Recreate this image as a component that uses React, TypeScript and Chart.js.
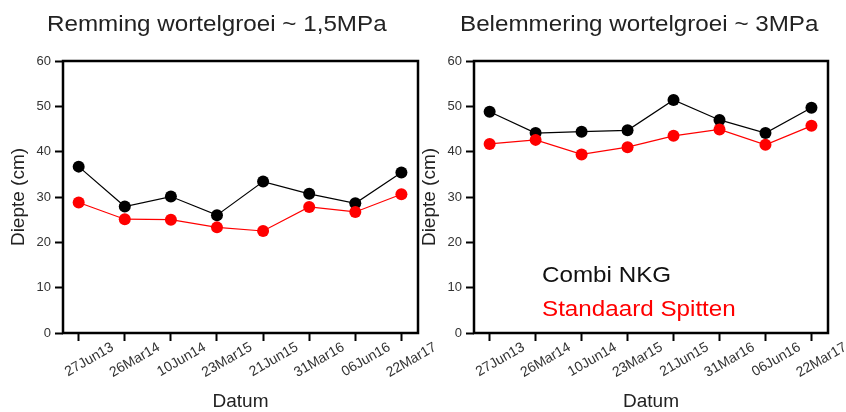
import React, { useEffect, useRef } from "react";
import { Chart, registerables } from "chart.js";

Chart.register(...registerables);

const dates = ["27Jun13", "26Mar14", "10Jun14", "23Mar15", "21Jun15", "31Mar16", "06Jun16", "22Mar17"];
const leftCombiNKG = [36.7, 27.9, 30.1, 26.0, 33.4, 30.7, 28.6, 35.4];
const leftSpitten = [28.8, 25.1, 25.0, 23.3, 22.5, 27.8, 26.7, 30.6];
const rightCombiNKG = [48.8, 44.1, 44.4, 44.7, 51.4, 47.0, 44.1, 49.7];
const rightSpitten = [41.7, 42.6, 39.4, 41.0, 43.5, 44.9, 41.5, 45.7];
const yMin = 0;
const yMax = 60;
const yStep = 10;

const leftTitle = "Remming wortelgroei ~ 1,5MPa";
const rightTitle = "Belemmering wortelgroei ~ 3MPa";
const seriesNames = ["Combi NKG", "Standaard Spitten"];
const FONT = "'Liberation Sans', Arial, Helvetica, sans-serif";
const W = 846;
const H = 412;

type PanelProps = {
  combi: number[];
  spitten: number[];
  padLeft: number;
  yAxisWidth: number;
  padRight: number;
  yTitlePad: number;
};

function Panel({ combi, spitten, padLeft, yAxisWidth, padRight, yTitlePad }: PanelProps) {
  const ref = useRef<HTMLCanvasElement>(null);
  useEffect(() => {
    if (!ref.current) return;
    const boxPlugin = {
      id: "boxFrame",
      beforeDatasetsDraw(chart: any) {
        const { ctx, chartArea } = chart;
        ctx.save();
        ctx.strokeStyle = "#000";
        ctx.lineWidth = 2.5;
        ctx.strokeRect(chartArea.left, chartArea.top, chartArea.right - chartArea.left, chartArea.bottom - chartArea.top);
        ctx.restore();
      },
    };
    const toPts = (arr: number[]) => arr.map((v, i) => ({ x: i, y: v }));
    const chart = new Chart(ref.current, {
      type: "line",
      data: {
        datasets: [
          {
            label: seriesNames[1],
            data: toPts(spitten),
            borderColor: "#ff0000",
            backgroundColor: "#ff0000",
            pointBackgroundColor: "#ff0000",
            pointBorderColor: "#ff0000",
            borderWidth: 1.2,
            pointRadius: 6,
            pointBorderWidth: 0,
            tension: 0,
          },
          {
            label: seriesNames[0],
            data: toPts(combi),
            borderColor: "#000",
            backgroundColor: "#000",
            pointBackgroundColor: "#000",
            pointBorderColor: "#000",
            borderWidth: 1.2,
            pointRadius: 6,
            pointBorderWidth: 0,
            tension: 0,
          },
        ],
      },
      options: {
        responsive: false,
        animation: false,
        events: [],
        layout: { padding: { top: 61, left: padLeft, right: padRight, bottom: 0 } },
        plugins: { legend: { display: false }, title: { display: false }, tooltip: { enabled: false } },
        scales: {
          x: {
            type: "linear",
            min: -0.34,
            max: 7.36,
            afterBuildTicks: (s: any) => {
              s.ticks = dates.map((_, i) => ({ value: i }));
            },
            afterFit: (s: any) => {
              s.height = 79;
            },
            ticks: {
              callback: (v: any) => dates[v as number] ?? "",
              autoSkip: false,
              minRotation: 30,
              maxRotation: 30,
              labelOffset: 34,
              padding: -2,
              color: "#333",
              font: { family: FONT, size: 14 },
            },
            grid: { drawOnChartArea: false, drawTicks: true, tickLength: 8, tickWidth: 2, tickColor: "#000" },
            border: { display: false },
            title: {
              display: true,
              text: "Datum",
              color: "#222",
              font: { family: FONT, size: 19, lineHeight: 1 },
              padding: { top: 0, bottom: 1 },
            },
          },
          y: {
            type: "linear",
            min: yMin,
            max: yMax,
            afterFit: (s: any) => {
              s.width = yAxisWidth;
            },
            ticks: { stepSize: yStep, color: "#333", padding: 4, font: { family: FONT, size: 13 } },
            grid: { drawOnChartArea: false, drawTicks: true, tickLength: 8, tickWidth: 2, tickColor: "#000" },
            border: { display: false },
            title: {
              display: true,
              text: "Diepte (cm)",
              color: "#222",
              font: { family: FONT, size: 19, lineHeight: 1 },
              padding: { top: yTitlePad, bottom: 0 },
            },
          },
        },
      },
      plugins: [boxPlugin],
    } as any);
    return () => chart.destroy();
  }, [combi, spitten, padLeft, yAxisWidth, padRight, yTitlePad]);
  return (
    <canvas
      ref={ref}
      width={W}
      height={H}
      style={{ position: "absolute", left: 0, top: 0, width: W, height: H }}
    />
  );
}

const textStyle = (left: number, top: number, size: number, color: string): React.CSSProperties => ({
  position: "absolute",
  left,
  top,
  fontFamily: FONT,
  fontSize: size,
  lineHeight: 1,
  color,
  whiteSpace: "nowrap",
  transform: "scaleX(1.1)",
  transformOrigin: "left top",
});

export default function App() {
  return (
    <div style={{ position: "absolute", left: 0, top: 0, width: W, height: H, background: "#fff", overflow: "hidden" }}>
      <Panel combi={leftCombiNKG} spitten={leftSpitten} padLeft={0} yAxisWidth={63} padRight={W - 418} yTitlePad={9} />
      <Panel combi={rightCombiNKG} spitten={rightSpitten} padLeft={420} yAxisWidth={54} padRight={W - 828} yTitlePad={0} />
      <div style={textStyle(47, 12.5, 22, "#222")}>{leftTitle}</div>
      <div style={textStyle(460, 12.5, 22, "#222")}>{rightTitle}</div>
      <div style={textStyle(542, 263.5, 22, "#111")}>{seriesNames[0]}</div>
      <div style={textStyle(542, 297.5, 22, "#ff0000")}>{seriesNames[1]}</div>
    </div>
  );
}
